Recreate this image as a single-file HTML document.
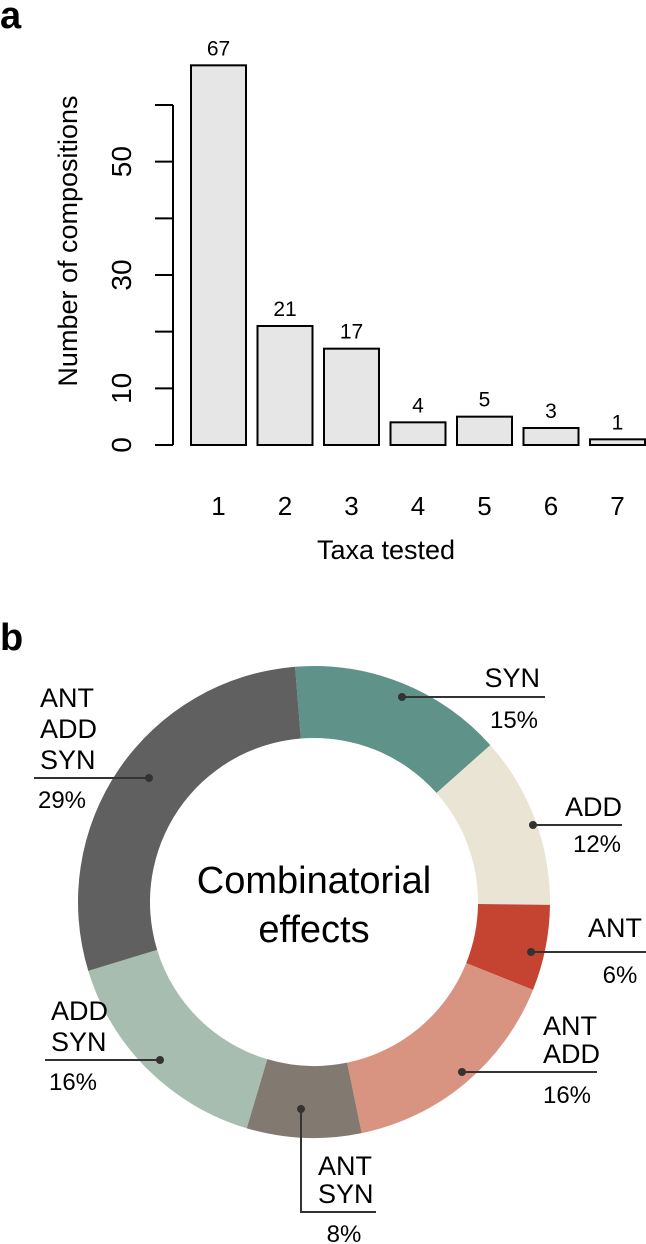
<!DOCTYPE html>
<html><head><meta charset="utf-8"><style>
html,body{margin:0;padding:0;background:#fff;}
svg{display:block;}
text{font-family:"Liberation Sans Narrow","Liberation Sans",sans-serif;fill:#000;}
</style></head><body>
<svg id="fig" width="646" height="1244" viewBox="0 0 646 1244" xmlns="http://www.w3.org/2000/svg">
<text x="0" y="28" font-size="38" font-weight="bold" style="font-family:'Liberation Sans',sans-serif">a</text>
<text x="0" y="650" font-size="38" font-weight="bold" style="font-family:'Liberation Sans',sans-serif">b</text>
<g id="bars"></g>
<g id="donut"></g>
</svg>
<script>
const categories = ["1","2","3","4","5","6","7"];
const counts = [67,21,17,4,5,3,1];
const yTicks = [0,10,20,30,40,50,60];
const yTickLabels = ["0","10","","30","","50",""];

const sliceNames = [["SYN"],["ADD"],["ANT"],["ANT","ADD"],["ANT","SYN"],["ADD","SYN"],["ANT","ADD","SYN"]];
const slicePercents = [15,12,6,16,8,16,29];
const sliceColors = ["#5f9389","#e9e4d4","#c44331","#d99481","#827a70","#a6bdb0","#606060"];

const NS="http://www.w3.org/2000/svg";
function mk(tag,attrs,parent){const e=document.createElementNS(NS,tag);for(const k in attrs)e.setAttribute(k,attrs[k]);parent.appendChild(e);return e;}

// bar chart
const bars=document.getElementById('bars');
const y0=445, pxPer=(445-105)/60;
const yS=v=>y0-v*pxPer;
const xStart=191, step=66.5, bw=55;
const xC=i=>xStart+i*step+bw/2;
let ax=mk('line',{x1:173,y1:yS(0),x2:173,y2:yS(60),stroke:'#000','stroke-width':2},bars);


yTicks.forEach((t,i)=>{
  const l=mk('line',{x1:155,y1:yS(t),x2:173,y2:yS(t),stroke:'#000','stroke-width':2},bars);
  
  
  if(yTickLabels[i]){
    const tx=mk('text',{x:0,y:0,'font-size':28,'text-anchor':'middle',transform:`translate(131,${yS(t)}) rotate(-90)`},bars);
    tx.textContent=yTickLabels[i];
    
    
  }
});
const yl=mk('text',{x:0,y:0,'font-size':27,'text-anchor':'middle',transform:'translate(77,241) rotate(-90)'},bars);
yl.textContent='Number of compositions';


counts.forEach((c,i)=>{
  const r=mk('rect',{x:xC(i)-bw/2,y:yS(c),width:bw,height:yS(0)-yS(c),fill:'#e6e6e6',stroke:'#000','stroke-width':2},bars);
  
  
  const v=mk('text',{x:xC(i),y:yS(c)-10,'font-size':21,'text-anchor':'middle'},bars);
  v.textContent=String(c);
  
  
  const xl=mk('text',{x:xC(i),y:515,'font-size':26,'text-anchor':'middle'},bars);
  xl.textContent=categories[i];
  
  
});
const xt=mk('text',{x:386,y:559,'font-size':27,'text-anchor':'middle'},bars);
xt.textContent='Taxa tested';



// donut
const dn=document.getElementById('donut');
const cx=314, cy=902, R=236, r=164;
const total=slicePercents.reduce((a,b)=>a+b,0);
let ang=-4.6;
const pt=(a,rad)=>[cx+rad*Math.sin(a*Math.PI/180), cy-rad*Math.cos(a*Math.PI/180)];
slicePercents.forEach((p,i)=>{
  const a0=ang, a1=ang+p/total*360; ang=a1;
  const large=(a1-a0)>180?1:0;
  const [x0,y0o]=pt(a0,R),[x1,y1o]=pt(a1,R),[x2,y2i]=pt(a1,r),[x3,y3i]=pt(a0,r);
  const path=mk('path',{d:`M${x0},${y0o} A${R},${R} 0 ${large} 1 ${x1},${y1o} L${x2},${y2i} A${r},${r} 0 ${large} 0 ${x3},${y3i} Z`,fill:sliceColors[i]},dn);
  
  
});
const ct1=mk('text',{x:cx,y:893,'font-size':38,'text-anchor':'middle'},dn);
ct1.textContent='Combinatorial';


const ct2=mk('text',{x:cx,y:942,'font-size':38,'text-anchor':'middle'},dn);
ct2.textContent='effects';



// leader labels (layout)
const labelLayout=[
 {dot:[402,697],line:[[402,697],[545,697]],tx:540,anchor:'end',base:[687],pct:[514,728]},
 {dot:[533,825],line:[[533,825],[622,825]],tx:622,anchor:'end',base:[816],pct:[597,852]},
 {dot:[531,952],line:[[531,952],[646,952]],tx:642,anchor:'end',base:[937],pct:[620,983]},
 {dot:[462,1072],line:[[462,1072],[597,1072]],tx:543,anchor:'start',base:[1035,1063],pct:[567,1103]},
 {dot:[301,1109],line:[[301,1109],[301,1212],[376,1212]],tx:318,anchor:'start',base:[1175,1203],pct:[344,1242]},
 {dot:[160,1060],line:[[160,1060],[45,1060]],tx:51,anchor:'start',base:[1020,1051],pct:[73,1090]},
 {dot:[149,778],line:[[149,778],[34,778]],tx:40,anchor:'start',base:[707,738,769],pct:[62,808]}
];
labelLayout.forEach((L,i)=>{
  const pl=mk('polyline',{points:L.line.map(p=>p.join(',')).join(' '),fill:'none',stroke:'#333','stroke-width':2},dn);
  
  
  const d=mk('circle',{cx:L.dot[0],cy:L.dot[1],r:4,fill:'#333'},dn);
  
  
  sliceNames[i].forEach((n,j)=>{
    const t=mk('text',{x:L.tx,y:L.base[j],'font-size':27,'text-anchor':L.anchor},dn);
    t.textContent=n;
    
    
  });
  const pt2=mk('text',{x:L.pct[0],y:L.pct[1],'font-size':24,'text-anchor':'middle'},dn);
  pt2.textContent=slicePercents[i]+'%';
  
  
});
</script>
</body></html>
